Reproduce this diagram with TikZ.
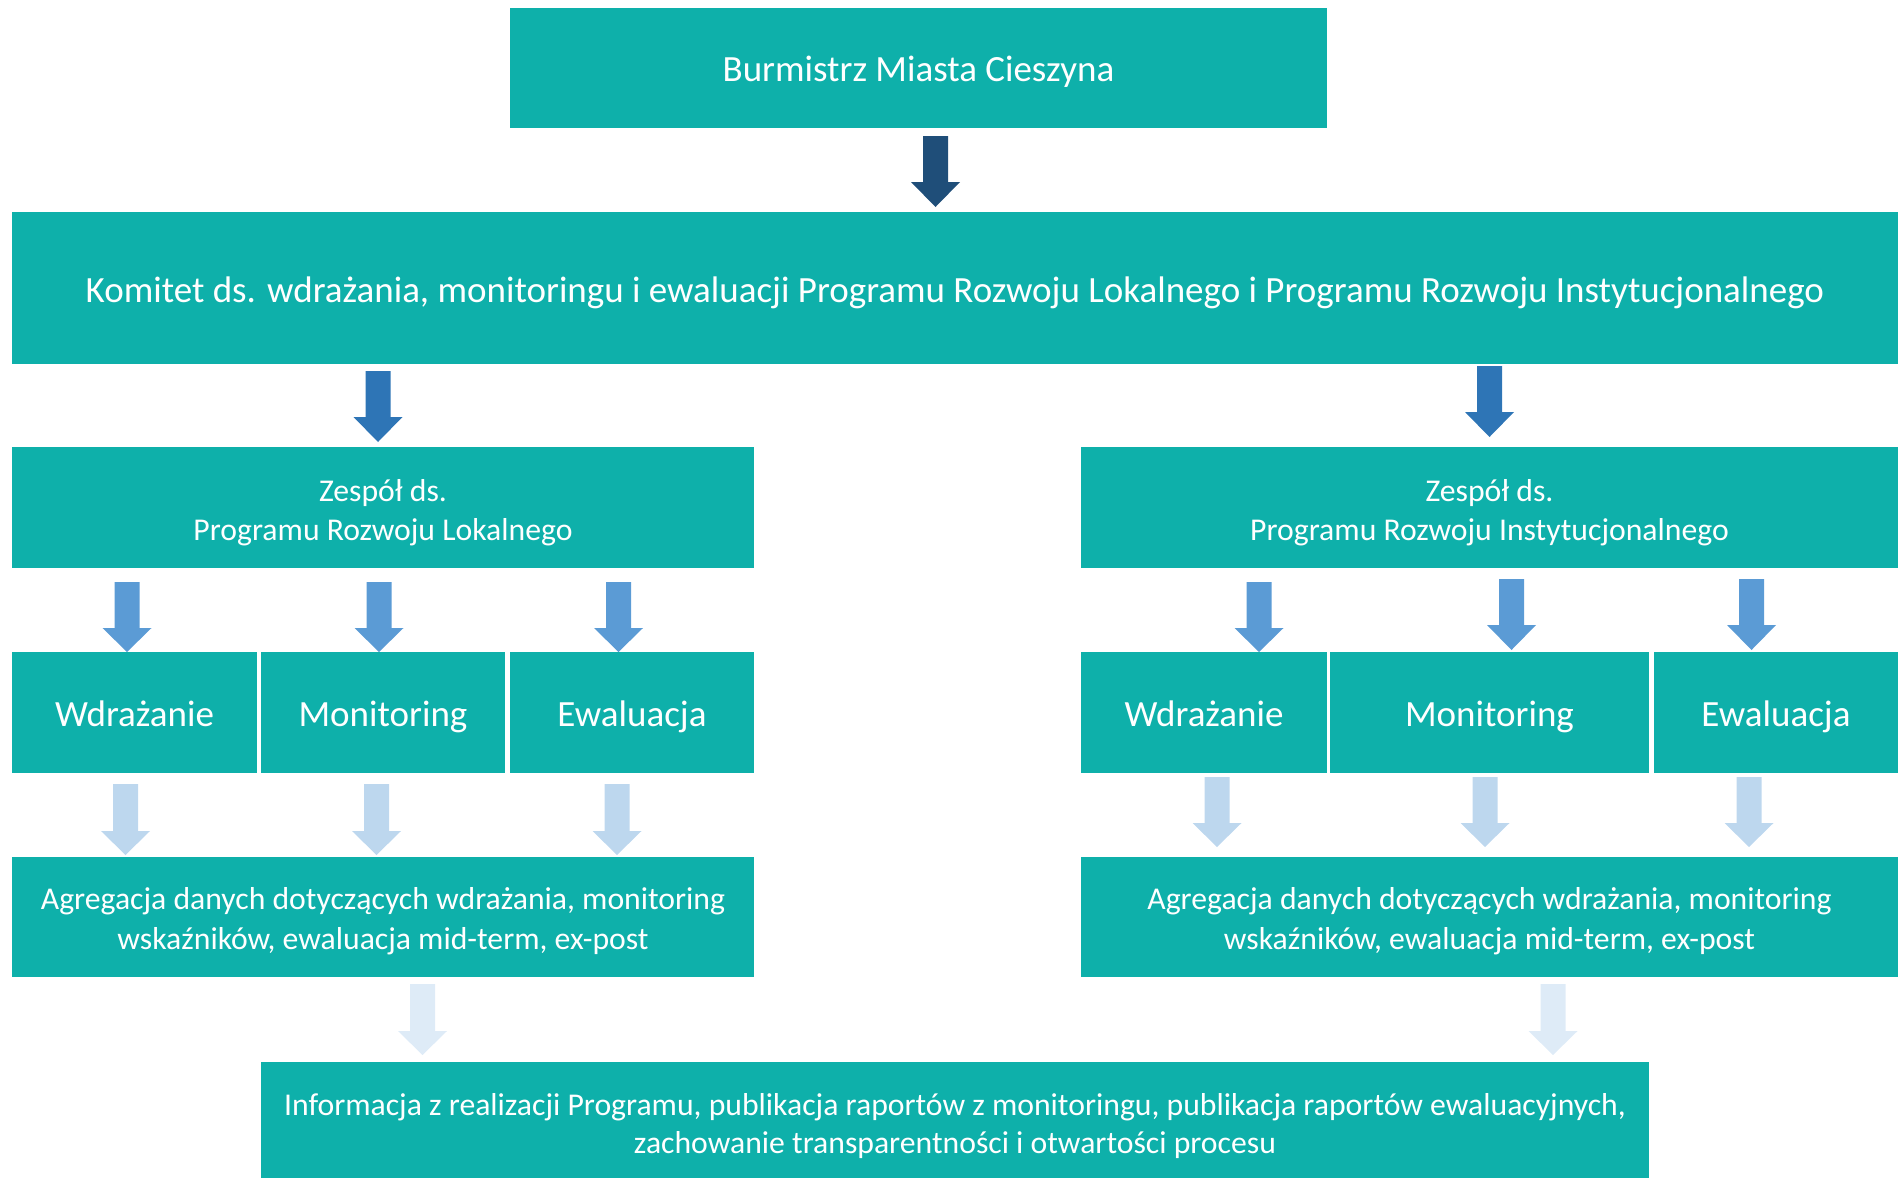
\documentclass[tikz,border=0pt]{standalone}
\usepackage{fontspec}
\setmainfont{Carlito}
\definecolor{teal1}{RGB}{14,176,170}
\definecolor{arrA}{RGB}{31,78,121}
\definecolor{arrB}{RGB}{46,117,182}
\definecolor{arrC}{RGB}{91,155,213}
\definecolor{arrD}{RGB}{189,215,238}
\definecolor{arrE}{RGB}{222,235,247}
\newcommand\blockarrow[5]{%
  \fill[#1] (#2-12.5,#3) -- (#2+12.5,#3) -- (#2+12.5,#4) -- (#2+24.5,#4) -- (#2,#5) -- (#2-24.5,#4) -- (#2-12.5,#4) -- cycle;}
\tikzset{
  box/.style={fill=teal1, inner sep=0pt, outer sep=0pt, anchor=north west},
  bigtxt/.style={text=white, inner sep=0pt, anchor=base, font=\fontsize{37}{40}\selectfont},
  midtxt/.style={text=white, inner sep=0pt, anchor=base, font=\fontsize{31.7}{39}\selectfont}
}
\begin{document}
\begin{tikzpicture}[x=1pt,y=-1pt]
\useasboundingbox (0,0) rectangle (1898,1178);
% boxes
\node[box,minimum width=817pt,minimum height=120pt] (burm) at (510,8) {};
\node[box,minimum width=1886pt,minimum height=152pt] (kom) at (12,212) {};
\node[box,minimum width=742pt,minimum height=121pt] (zl) at (12,447) {};
\node[box,minimum width=817pt,minimum height=121pt] (zr) at (1081,447) {};
\node[box,minimum width=245pt,minimum height=121pt] (wl) at (12,652) {};
\node[box,minimum width=244pt,minimum height=121pt] (ml) at (261,652) {};
\node[box,minimum width=244pt,minimum height=121pt] (el) at (510,652) {};
\node[box,minimum width=246pt,minimum height=121pt] (wr) at (1081,652) {};
\node[box,minimum width=319pt,minimum height=121pt] (mr) at (1330,652) {};
\node[box,minimum width=244pt,minimum height=121pt] (er) at (1654,652) {};
\node[box,minimum width=742pt,minimum height=120pt] (al) at (12,857) {};
\node[box,minimum width=817pt,minimum height=120pt] (ar) at (1081,857) {};
\node[box,minimum width=1388pt,minimum height=116pt] (inf) at (261,1062) {};
% texts
\node[bigtxt] (burmT) at (918.5,81.5) {Burmistrz Miasta Cieszyna};
\node[bigtxt] (komT) at (955,302) {Komitet ds. wdrażania, monitoringu i ewaluacji Programu Rozwoju Lokalnego i Programu Rozwoju Instytucjonalnego};
\node[midtxt] (zlT1) at (383,501.5) {Zespół ds.};
\node[midtxt] (zlT2) at (383,540.3) {Programu Rozwoju Lokalnego};
\node[midtxt] (zrT1) at (1489.5,501.5) {Zespół ds.};
\node[midtxt] (zrT2) at (1489.5,540.3) {Programu Rozwoju Instytucjonalnego};
\node[bigtxt] (wlT) at (134.5,726.5) {Wdrażanie};
\node[bigtxt] (mlT) at (383,726.5) {Monitoring};
\node[bigtxt] (elT) at (632,726.5) {Ewaluacja};
\node[bigtxt] (wrT) at (1204,726.5) {Wdrażanie};
\node[bigtxt] (mrT) at (1489.5,726.5) {Monitoring};
\node[bigtxt] (erT) at (1776,726.5) {Ewaluacja};
\node[midtxt] (alT1) at (383,909.2) {Agregacja danych dotyczących wdrażania, monitoring};
\node[midtxt] (alT2) at (383,949.1) {wskaźników, ewaluacja mid-term, ex-post};
\node[midtxt] (arT1) at (1489.5,909.2) {Agregacja danych dotyczących wdrażania, monitoring};
\node[midtxt] (arT2) at (1489.5,949.1) {wskaźników, ewaluacja mid-term, ex-post};
\node[midtxt] (infT1) at (955,1115) {Informacja z realizacji Programu, publikacja raportów z monitoringu, publikacja raportów ewaluacyjnych,};
\node[midtxt] (infT2) at (955,1153.7) {zachowanie transparentności i otwartości procesu};
% arrows
\blockarrow{arrA}{935.5}{136}{182}{207}
\blockarrow{arrB}{378}{371}{417}{442}
\blockarrow{arrB}{1489.5}{366}{412}{437}
\blockarrow{arrC}{127}{582}{628}{652}
\blockarrow{arrC}{379}{582}{628}{652}
\blockarrow{arrC}{618.5}{582}{628}{652}
\blockarrow{arrC}{1259}{582}{628}{652}
\blockarrow{arrC}{1511.5}{579}{625}{650}
\blockarrow{arrC}{1751.5}{579}{625}{650}
\blockarrow{arrD}{125.5}{784}{831}{855}
\blockarrow{arrD}{376.5}{784}{831}{855}
\blockarrow{arrD}{617}{784}{831}{855}
\blockarrow{arrD}{1217}{777}{823}{847}
\blockarrow{arrD}{1485}{777}{823}{847}
\blockarrow{arrD}{1749}{777}{823}{847}
\blockarrow{arrE}{422.5}{984}{1031}{1055}
\blockarrow{arrE}{1553}{984}{1031}{1055}
\end{tikzpicture}
\end{document}
